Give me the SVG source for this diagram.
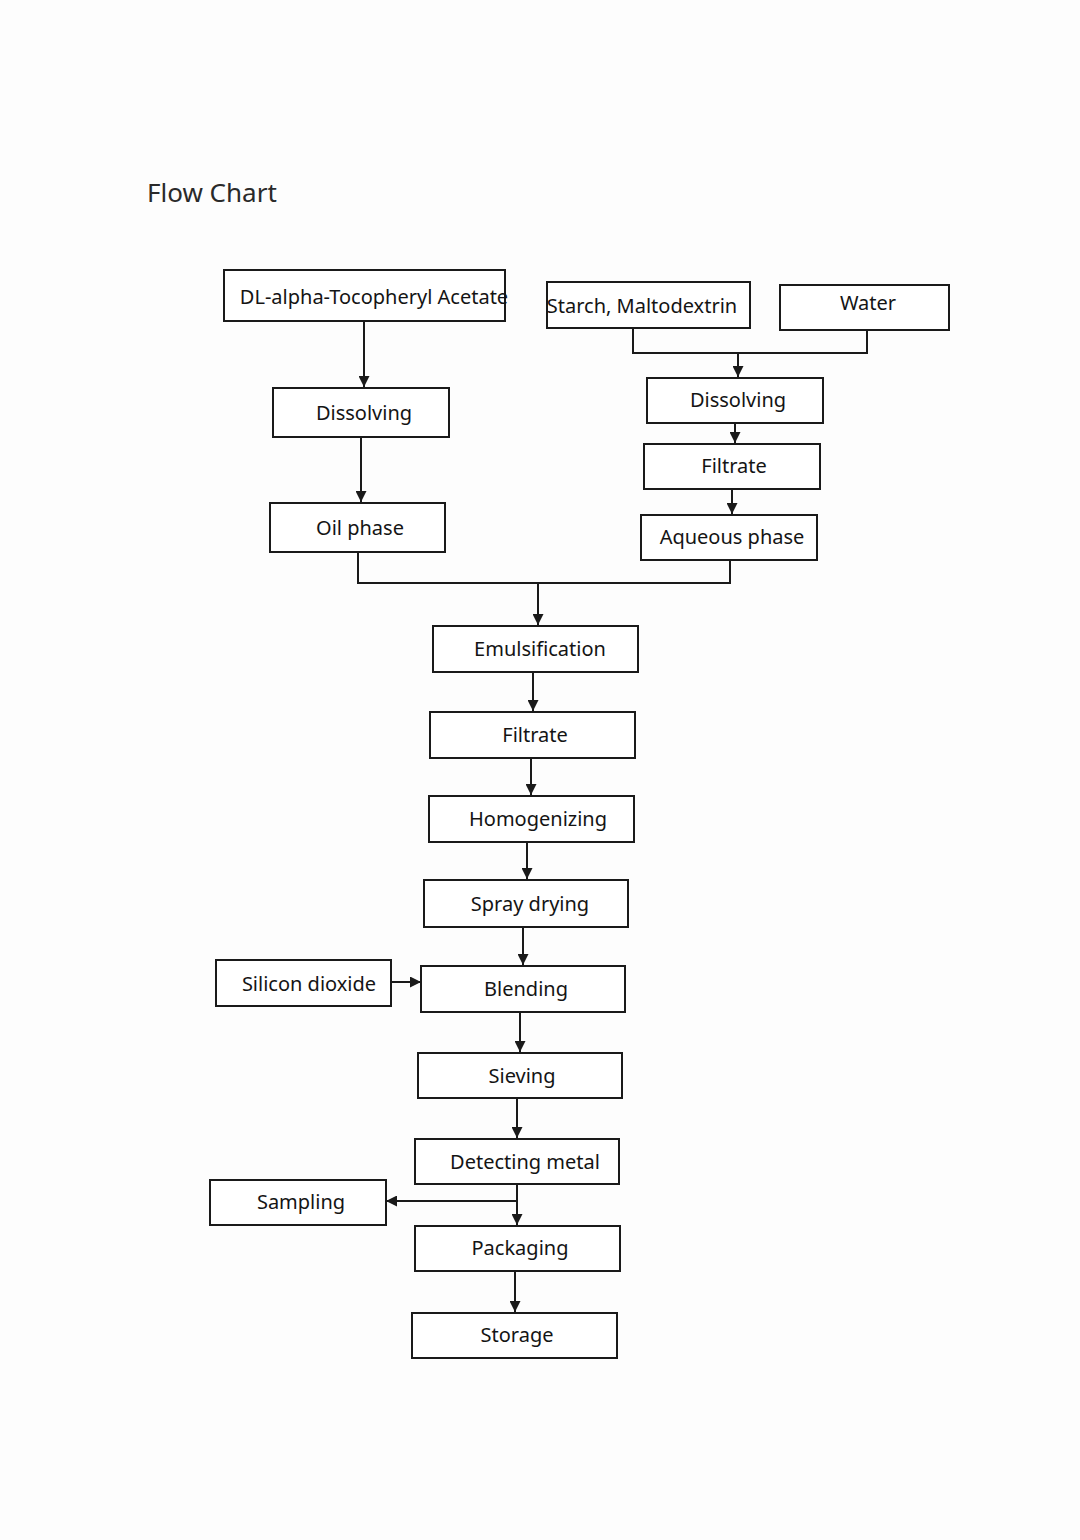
<svg xmlns="http://www.w3.org/2000/svg" width="1080" height="1540" viewBox="0 0 1080 1540">
<style>
.box{fill:#fff;stroke:#1a1a1a;stroke-width:2}
.t{font-family:"Noto Sans","Open Sans","DejaVu Sans",sans-serif;font-size:20px;fill:#141414;text-anchor:middle;dominant-baseline:central}
.c{fill:none;stroke:#1a1a1a;stroke-width:2}
</style>
<defs>
<marker id="ah" viewBox="0 0 10 10" refX="10" refY="5" markerWidth="6" markerHeight="5.5" orient="auto" markerUnits="strokeWidth">
<path d="M0,0 L10,5 L0,10 Z" fill="#1a1a1a"/>
</marker>
</defs>
<rect width="1080" height="1540" fill="#fdfdfd"/>
<text x="147" y="202" style="font-family:'Noto Sans','Open Sans',sans-serif;font-size:26px;fill:#2a2a2a">Flow Chart</text>

<g id="connectors">
<path class="c" d="M364,322 V387" marker-end="url(#ah)"/>
<path class="c" d="M361,437 V502" marker-end="url(#ah)"/>
<path class="c" d="M633,328 V353 H867 V330"/>
<path class="c" d="M738,353 V377" marker-end="url(#ah)"/>
<path class="c" d="M735,423 V443" marker-end="url(#ah)"/>
<path class="c" d="M732,489 V514" marker-end="url(#ah)"/>
<path class="c" d="M358,552 V583 H730 V560"/>
<path class="c" d="M538,583 V625" marker-end="url(#ah)"/>
<path class="c" d="M533,672 V711" marker-end="url(#ah)"/>
<path class="c" d="M531,758 V795" marker-end="url(#ah)"/>
<path class="c" d="M527,842 V879" marker-end="url(#ah)"/>
<path class="c" d="M523,927 V965" marker-end="url(#ah)"/>
<path class="c" d="M391,982 H421" marker-end="url(#ah)"/>
<path class="c" d="M520,1012 V1052" marker-end="url(#ah)"/>
<path class="c" d="M517,1098 V1138" marker-end="url(#ah)"/>
<path class="c" d="M517,1184 V1225" marker-end="url(#ah)"/>
<path class="c" d="M517,1201 H386" marker-end="url(#ah)"/>
<path class="c" d="M515,1271 V1312" marker-end="url(#ah)"/>
</g>

<g id="n-dl"><rect class="box" x="224" y="270" width="281" height="51"/><text class="t" x="374" y="296">DL-alpha-Tocopheryl Acetate</text></g>
<g id="n-starch"><rect class="box" x="547" y="282" width="203" height="46"/><text class="t" x="642" y="305">Starch, Maltodextrin</text></g>
<g id="n-water"><rect class="box" x="780" y="285" width="169" height="45"/><text class="t" x="868" y="302">Water</text></g>
<g id="n-dissolve-l"><rect class="box" x="273" y="388" width="176" height="49"/><text class="t" x="364" y="412">Dissolving</text></g>
<g id="n-oil"><rect class="box" x="270" y="503" width="175" height="49"/><text class="t" x="360" y="527">Oil phase</text></g>
<g id="n-dissolve-r"><rect class="box" x="647" y="378" width="176" height="45"/><text class="t" x="738" y="399">Dissolving</text></g>
<g id="n-filtrate-r"><rect class="box" x="644" y="444" width="176" height="45"/><text class="t" x="734" y="465">Filtrate</text></g>
<g id="n-aqueous"><rect class="box" x="641" y="515" width="176" height="45"/><text class="t" x="732" y="536">Aqueous phase</text></g>
<g id="n-emuls"><rect class="box" x="433" y="626" width="205" height="46"/><text class="t" x="540" y="648">Emulsification</text></g>
<g id="n-filtrate"><rect class="box" x="430" y="712" width="205" height="46"/><text class="t" x="535" y="734">Filtrate</text></g>
<g id="n-homog"><rect class="box" x="429" y="796" width="205" height="46"/><text class="t" x="538" y="818">Homogenizing</text></g>
<g id="n-spray"><rect class="box" x="424" y="880" width="204" height="47"/><text class="t" x="530" y="903">Spray drying</text></g>
<g id="n-silicon"><rect class="box" x="216" y="960" width="175" height="46"/><text class="t" x="309" y="983">Silicon dioxide</text></g>
<g id="n-blend"><rect class="box" x="421" y="966" width="204" height="46"/><text class="t" x="526" y="988">Blending</text></g>
<g id="n-sieve"><rect class="box" x="418" y="1053" width="204" height="45"/><text class="t" x="522" y="1075">Sieving</text></g>
<g id="n-detect"><rect class="box" x="415" y="1139" width="204" height="45"/><text class="t" x="525" y="1161">Detecting metal</text></g>
<g id="n-sampling"><rect class="box" x="210" y="1180" width="176" height="45"/><text class="t" x="301" y="1201">Sampling</text></g>
<g id="n-pack"><rect class="box" x="415" y="1226" width="205" height="45"/><text class="t" x="520" y="1247">Packaging</text></g>
<g id="n-storage"><rect class="box" x="412" y="1313" width="205" height="45"/><text class="t" x="517" y="1334">Storage</text></g>
</svg>
